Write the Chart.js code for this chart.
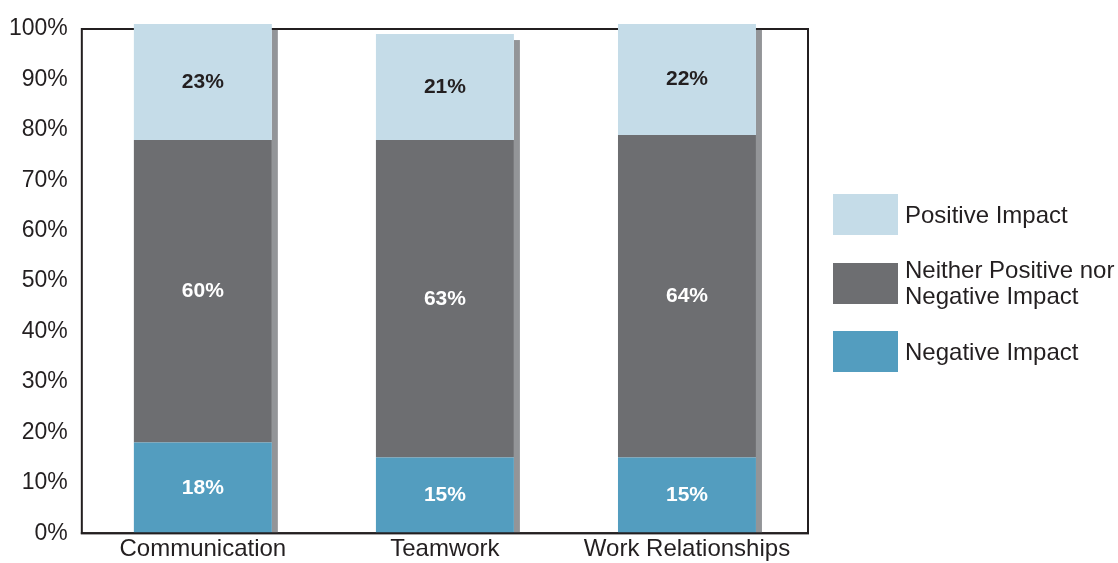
<!DOCTYPE html>
<html>
<head>
<meta charset="utf-8">
<script src="https://cdn.jsdelivr.net/npm/chart.js@4.4.0/dist/chart.umd.min.js"></script>
<style>
  body { margin: 0; background: #fff; overflow: hidden; }
  #wrap { position: relative; width: 1118px; height: 563px; overflow: hidden; }
  #grafico { position: absolute; left: -5px; top: 0; }
  #legenda { position: absolute; left: 833px; top: 194px; font-family: "Liberation Sans", Arial, sans-serif; font-size: 24px; color: #231f20; }
  .item { display: flex; align-items: center; margin-bottom: 22px; }
  .caixa { width: 65px; height: 41px; margin-right: 7px; flex: none; }
  .texto { line-height: 26px; }
</style>
</head>
<body>
<div id="wrap">
  <canvas id="grafico" width="1118" height="563"></canvas>
  <div id="legenda"></div>
</div>
<script>
// dados do grafico
var categorias = ['Communication', 'Teamwork', 'Work Relationships'];
var negativo = [18, 15, 15];
var neutro = [60, 63, 64];
var positivo = [23, 21, 22];
var nomes = ['Negative Impact', 'Neither Positive nor Negative Impact', 'Positive Impact'];
var nomesLegenda = [['Negative Impact'], ['Neither Positive nor', 'Negative Impact'], ['Positive Impact']];
var cores = ['#539dbf', '#6d6e71', '#c5dce8'];
var coresTexto = ['#ffffff', '#ffffff', '#231f20'];
var ticksY = [0, 10, 20, 30, 40, 50, 60, 70, 80, 90, 100];

var fonte = '"Liberation Sans", Arial, sans-serif';

// moldura e sombra atras das barras
const moldura = {
    id: 'moldura',
    beforeDatasetsDraw(chart) {
        const c = chart.ctx;
        const a = chart.chartArea;
        c.save();
        c.strokeStyle = '#231f20';
        c.lineWidth = 2;
        c.strokeRect(a.left, a.top, a.right - a.left, a.bottom - a.top);
        // sombra cinza do lado direito de cada pilha
        const topo = chart.getDatasetMeta(chart.data.datasets.length - 1);
        c.fillStyle = '#939598';
        topo.data.forEach(function (bar) {
            const dir = bar.x + bar.width / 2;
            c.fillRect(dir, bar.y + 6, 6, a.bottom - bar.y - 6);
        });
        c.restore();
    },
    afterDatasetsDraw(chart) {
        const c = chart.ctx;
        const a = chart.chartArea;
        c.save();
        c.strokeStyle = '#231f20';
        c.lineWidth = 2;
        c.beginPath();
        c.moveTo(a.left - 1, a.bottom);
        c.lineTo(a.right + 1, a.bottom);
        c.stroke();
        // rotulos de porcentagem
        c.font = 'bold 21px ' + fonte;
        c.textAlign = 'center';
        c.textBaseline = 'middle';
        chart.data.datasets.forEach(function (ds, i) {
            const meta = chart.getDatasetMeta(i);
            meta.data.forEach(function (bar, j) {
                c.fillStyle = coresTexto[i];
                c.fillText(ds.data[j] + '%', bar.x, (bar.y + bar.base) / 2);
            });
        });
        c.restore();
    }
};

const ctx = document.getElementById('grafico');

new Chart(ctx, {
    type: 'bar',
    data: {
        labels: categorias,
        datasets: [
            { label: nomes[0], data: negativo, backgroundColor: cores[0] },
            { label: nomes[1], data: neutro, backgroundColor: cores[1] },
            { label: nomes[2], data: positivo, backgroundColor: cores[2] }
        ]
    },
    options: {
        responsive: false,
        animation: false,
        layout: { padding: { left: 0, right: 305, top: 29, bottom: -3 } },
        datasets: { bar: { barPercentage: 0.57, categoryPercentage: 1, clip: false } },
        plugins: {
            legend: { display: false },
            tooltip: { enabled: false }
        },
        scales: {
            x: {
                stacked: true,
                grid: { display: false, drawTicks: false },
                border: { display: false },
                ticks: { color: '#231f20', font: { family: fonte, size: 24, lineHeight: 0.7 }, padding: 8 }
            },
            y: {
                stacked: true,
                min: 0,
                max: 100,
                afterBuildTicks: function (eixo) {
                    eixo.ticks = ticksY.map(function (v) { return { value: v }; });
                },
                grid: { display: false, drawTicks: false },
                border: { display: false },
                ticks: {
                    color: '#231f20',
                    font: { family: fonte, size: 23 },
                    padding: 14,
                    callback: function (v) { return v + '%'; }
                }
            }
        }
    },
    plugins: [moldura]
});

// legenda em html
var legenda = document.getElementById('legenda');
for (let i = nomes.length - 1; i >= 0; i--) {
    let item = document.createElement('div');
    item.className = 'item';
    item.innerHTML = '<div class="caixa" style="background:' + cores[i] + '"></div><div class="texto">' + nomesLegenda[i].join('<br>') + '</div>';
    legenda.appendChild(item);
}
</script>
</body>
</html>
